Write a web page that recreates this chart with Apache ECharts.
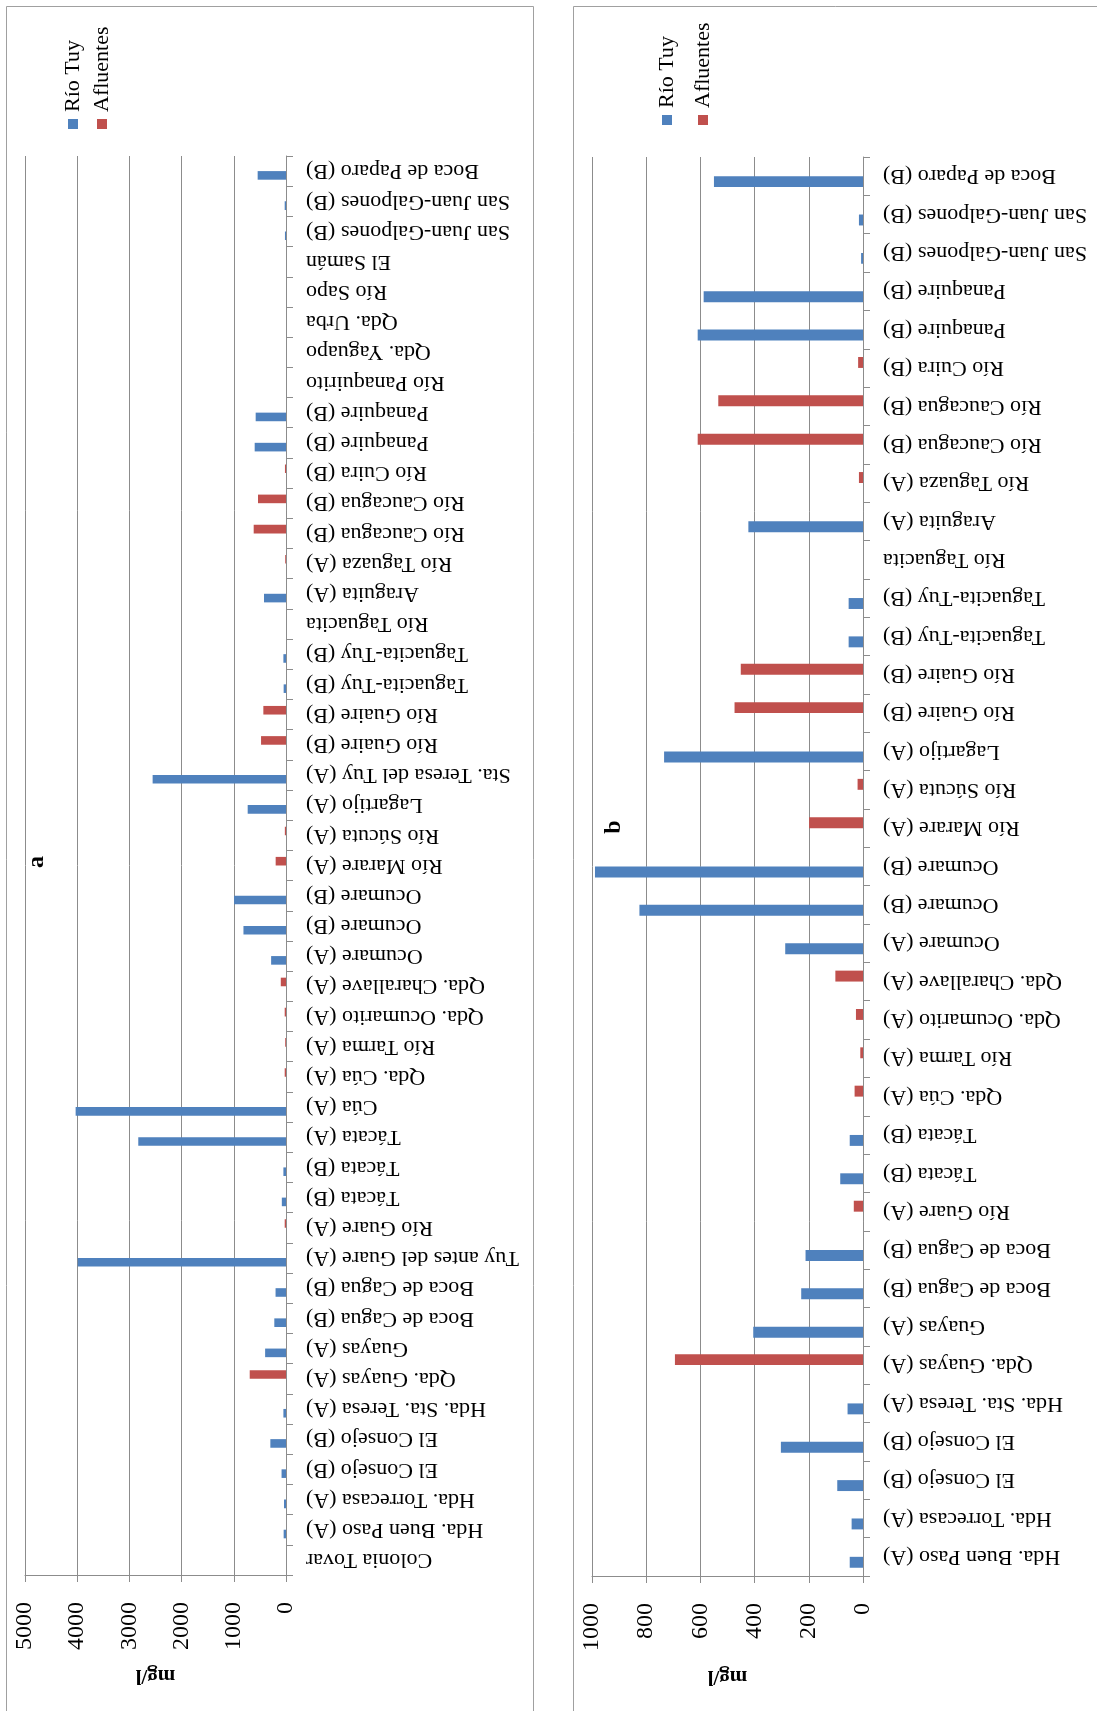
<!DOCTYPE html>
<html>
<head>
<meta charset="utf-8">
<script src="https://cdn.jsdelivr.net/npm/echarts@6/dist/echarts.min.js"></script>
<style>
  html, body { margin: 0; padding: 0; background: #fff; }
  #main { width: 1097px; height: 1711px; }
</style>
</head>
<body>
<div id="main"></div>
<script>
// categories listed from bottom to top, as they sit on the (rotated) axis
const catsA = ['Colonia Tovar', 'Hda. Buen Paso (A)', 'Hda. Torrecasa (A)', 'El Consejo (B)', 'El Consejo (B)',
  'Hda. Sta. Teresa (A)', 'Qda. Guayas (A)', 'Guayas (A)', 'Boca de Cagua (B)', 'Boca de Cagua (B)',
  'Tuy antes del Guare (A)', 'Río Guare (A)', 'Tácata (B)', 'Tácata (B)', 'Tácata (A)', 'Cúa (A)',
  'Qda. Cúa (A)', 'Río Tarma (A)', 'Qda. Ocumarito (A)', 'Qda. Charallave (A)', 'Ocumare (A)',
  'Ocumare (B)', 'Ocumare (B)', 'Río Marare (A)', 'Río Súcuta (A)', 'Lagartijo (A)',
  'Sta. Teresa del Tuy (A)', 'Río Guaire (B)', 'Río Guaire (B)', 'Taguacita-Tuy (B)', 'Taguacita-Tuy (B)',
  'Río Taguacita', 'Araguita (A)', 'Río Taguaza (A)', 'Río Caucagua (B)', 'Río Caucagua (B)',
  'Río Cuira (B)', 'Panaquire (B)', 'Panaquire (B)', 'Río Panaquirito', 'Qda. Yaguapo', 'Qda. Urba',
  'Río Sapo', 'El Samán', 'San Juan-Galpones (B)', 'San Juan-Galpones (B)', 'Boca de Paparo (B)'];
const tuyA = [null, 45, 38, 85, 300, 50, null, 400, 224, 200, 3990, null, 80, 50, 2830, 4030,
  null, null, null, null, 285, 815, 995, null, null, 734, 2555, null, null, 45, 50,
  null, 421, null, null, null, null, 600, 581, null, null, null, null, null, 20, 25, 543];
const aflA = [null, null, null, null, null, null, 695, null, null, null, null, 25, null, null, null, null,
  25, 15, 25, 100, null, null, null, 198, 22, null, null, 478, 434, null, null,
  null, null, 15, 619, 536, 20, null, null, null, null, null, null, null, null, null, null];

const catsB = ['Hda. Buen Paso (A)', 'Hda. Torrecasa (A)', 'El Consejo (B)', 'El Consejo (B)',
  'Hda. Sta. Teresa (A)', 'Qda. Guayas (A)', 'Guayas (A)', 'Boca de Cagua (B)', 'Boca de Cagua (B)',
  'Río Guare (A)', 'Tácata (B)', 'Tácata (B)', 'Qda. Cúa (A)', 'Río Tarma (A)', 'Qda. Ocumarito (A)',
  'Qda. Charallave (A)', 'Ocumare (A)', 'Ocumare (B)', 'Ocumare (B)', 'Río Marare (A)', 'Río Súcuta (A)',
  'Lagartijo (A)', 'Río Guaire (B)', 'Río Guaire (B)', 'Taguacita-Tuy (B)', 'Taguacita-Tuy (B)',
  'Río Taguacita', 'Araguita (A)', 'Río Taguaza (A)', 'Río Caucagua (B)', 'Río Caucagua (B)',
  'Río Cuira (B)', 'Panaquire (B)', 'Panaquire (B)', 'San Juan-Galpones (B)', 'San Juan-Galpones (B)',
  'Boca de Paparo (B)'];
const tuyB = [49, 42, 95, 303, 57, null, 405, 228, 212, null, 84, 49, null, null, null,
  null, 287, 825, 989, null, null, 734, null, null, 53, 53,
  null, 423, null, null, null, null, 610, 588, 7, 15, 550];
const aflB = [null, null, null, null, null, 694, null, null, null, 34, null, null, 31, 10, 26,
  102, null, null, null, 199, 20, null, 474, 451, null, null,
  null, null, 15, 610, 534, 18, null, null, null, null, null];

const maxA = 5000, stepA = 1000;
const maxB = 1000, stepB = 200;

const FONT = 'Liberation Serif';
const BLUE = '#4f81bd';
const RED = '#c0504d';
const GRID_GREY = '#8c8c8c';

const chart = echarts.init(document.getElementById('main'), null, { renderer: 'canvas' });

function valueAxis(idx, max, step) {
  return {
    type: 'value',
    gridIndex: idx,
    inverse: true,
    position: 'bottom',
    min: 0,
    max: max,
    interval: step,
    name: 'mg/l',
    nameLocation: 'middle',
    nameGap: 90,
    nameRotate: 180,
    nameTextStyle: { fontFamily: FONT, fontSize: 21, fontWeight: 'bold', color: '#000' },
    axisLine: { show: true, lineStyle: { color: GRID_GREY, width: 1 } },
    axisTick: { show: true, length: 7, lineStyle: { color: GRID_GREY } },
    splitLine: { show: true, lineStyle: { color: GRID_GREY, width: 1 } },
    axisLabel: { rotate: 90, margin: 27, fontFamily: FONT, fontSize: 24, color: '#000',
      formatter: function (v) { return String(v); } }
  };
}

function catAxis(idx, cats) {
  return {
    type: 'category',
    gridIndex: idx,
    position: 'right',
    data: cats,
    axisLine: { show: true, lineStyle: { color: GRID_GREY, width: 1 } },
    axisTick: { show: true, interval: 0, length: 7, lineStyle: { color: GRID_GREY } },
    axisLabel: { interval: 0, rotate: 180, margin: 20, fontFamily: FONT, fontSize: 22, color: '#000' },
    splitLine: { show: false }
  };
}

function bars(name, idx, data, color) {
  return {
    name: name,
    type: 'bar',
    xAxisIndex: idx,
    yAxisIndex: idx,
    data: data,
    barGap: '0%',
    barCategoryGap: '43%',
    itemStyle: { color: color },
    silent: true
  };
}

// legend entries, drawn sideways like the rest of the figure
function legendItem(x, y, color, label) {
  return [
    { type: 'rect', x: x, y: y + 12, shape: { x: -5, y: -5, width: 10, height: 10 }, style: { fill: color } },
    { type: 'text', x: x, y: y, rotation: Math.PI / 2,
      style: { text: label, fontFamily: FONT, fontSize: 22, fill: '#000', align: 'left', verticalAlign: 'middle' } }
  ];
}

function title(x, y, label) {
  return { type: 'text', x: x, y: y, rotation: Math.PI / 2,
    style: { text: label, fontFamily: FONT, fontSize: 24, fontWeight: 'bold', fill: '#000', align: 'center', verticalAlign: 'middle' } };
}

const option = {
  backgroundColor: '#fff',
  animation: false,
  grid: [
    { left: 25, right: 811, top: 156, bottom: 136 },
    { left: 592, right: 234, top: 157, bottom: 135 }
  ],
  xAxis: [valueAxis(0, maxA, stepA), valueAxis(1, maxB, stepB)],
  yAxis: [catAxis(0, catsA), catAxis(1, catsB)],
  series: [
    bars('Afluentes', 0, aflA, RED),
    bars('Río Tuy', 0, tuyA, BLUE),
    bars('Afluentes', 1, aflB, RED),
    bars('Río Tuy', 1, tuyB, BLUE)
  ],
  graphic: [
    { type: 'rect', shape: { x: 6.5, y: 6.5, width: 527, height: 1720 }, style: { fill: null, stroke: '#a0a0a0', lineWidth: 1 }, z: -1 },
    { type: 'rect', shape: { x: 573.5, y: 6.5, width: 540, height: 1720 }, style: { fill: null, stroke: '#a0a0a0', lineWidth: 1 }, z: -1 },
    ...legendItem(73, 112, BLUE, 'Río Tuy'),
    ...legendItem(102, 112, RED, 'Afluentes'),
    ...legendItem(667, 108, BLUE, 'Río Tuy'),
    ...legendItem(703, 108, RED, 'Afluentes'),
    title(37, 862, 'a'),
    title(614, 827, 'b')
  ]
};

chart.setOption(option);
</script>
</body>
</html>
